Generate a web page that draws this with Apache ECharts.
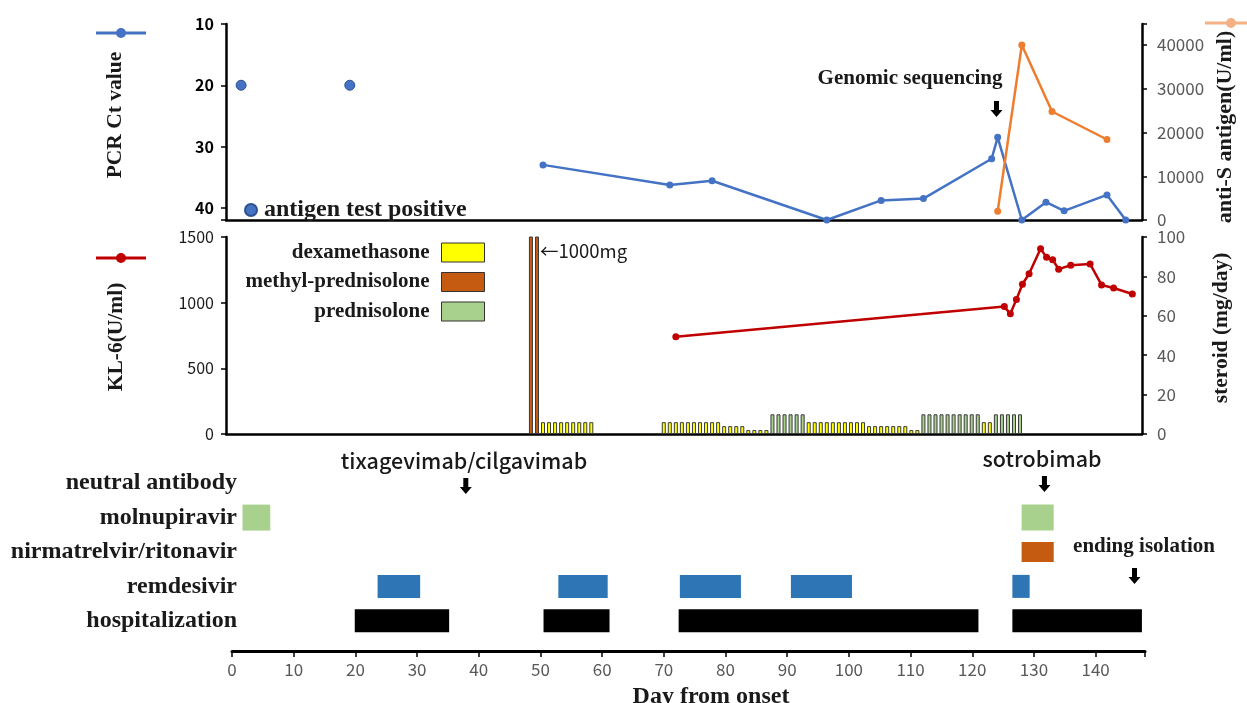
<!DOCTYPE html>
<html><head><meta charset="utf-8">
<script src="https://cdn.jsdelivr.net/npm/echarts@6/dist/echarts.min.js"></script>
<style>html,body{margin:0;padding:0;background:#fff}#c{width:1247px;height:703px}</style>
</head><body><div id="c"></div>
<script>
// ---------- DATA ----------
// top panel: PCR Ct (inverted axis) and anti-S antibody
const ctDays = [50, 71, 78, 97, 106, 113, 124.3, 125.3, 129.3, 133.3, 136.3, 143.4, 146.5];
const ctValues = [33.0, 36.3, 35.6, 42, 38.8, 38.5, 32.0, 28.5, 42, 39.1, 40.5, 37.9, 42];
const antigenDays = [0, 18];
const antigenCt = [20, 20];
const antiSDays = [125.3, 129.3, 134.3, 143.4];
const antiSValues = [2000, 40000, 24800, 18400];
// middle panel: KL-6 and steroid doses
const kl6Days = [72, 126.4, 127.4, 128.4, 129.4, 130.5, 132.4, 133.4, 134.4, 135.4, 137.4, 140.6, 142.5, 144.5, 147.6];
const kl6Values = [740, 970, 915, 1025, 1140, 1220, 1410, 1345, 1327, 1255, 1285, 1295, 1135, 1112, 1066];
const methylDays = [48, 49];
const methylDose = [1000, 1000];
const dexDays = [50,51,52,53,54,55,56,57,58,
  70,71,72,73,74,75,76,77,78,79, 80,81,82,83, 84,85,86,87,
  94,95,96,97,98,99,100,101,102,103, 104,105,106,107,108,109,110, 111,112,
  123,124];
const dexDose = [6,6,6,6,6,6,6,6,6,
  6,6,6,6,6,6,6,6,6,6, 4,4,4,4, 2,2,2,2,
  6,6,6,6,6,6,6,6,6,6, 4,4,4,4,4,4,4, 2,2,
  6,6];
const predDays = [88,89,90,91,92,93, 113,114,115,116,117,118,119,120,121,122, 125,126,127,128,129];
const predDose = [10,10,10,10,10,10, 10,10,10,10,10,10,10,10,10,10, 10,10,10,10,10];
// bottom panel: treatment periods [start day, end day]
const rowLabels = ['hospitalization', 'remdesivir', 'nirmatrelvir/ritonavir', 'molnupiravir', 'neutral antibody'];
const hospitalization = [[19.9, 35.2], [50.5, 61.2], [72.4, 121.0], [126.5, 147.5]];
const remdesivir = [[23.6, 30.5], [52.9, 60.9], [72.6, 82.5], [90.6, 100.5], [126.5, 129.3]];
const nirmatrelvir = [[128.0, 133.2]];
const molnupiravir = [[1.7, 6.2], [128.0, 133.2]];
// annotation arrows (day)
const genomicDay = 125.1;
const tixaDay = 37.9;
const sotroDay = 131.7;
const isolationEndDay = 146.3;

// ---------- CHART ----------
const zip = (a, b) => a.map((v, i) => [v, b[i]]);
const serifB = {fontFamily: 'Liberation Serif', fontWeight: 'bold'};
const sans = 'Noto Sans CJK JP';
const blackLine = {show: true, onZero: false, lineStyle: {color: '#000', width: 2.5}};
const tick = {show: true, length: 5, lineStyle: {color: '#000', width: 1.5}};
const hideOff = step => v => (v % step === 0 ? String(v) : '');
const rowHeights = {0: 23, 1: 23, 2: 20, 3: 26, 4: 24};

function gantt(name, arr, row, color) {
  return {
    type: 'custom', name, xAxisIndex: 2, yAxisIndex: 4,
    data: arr.map(([s, e]) => [row, s, e]),
    encode: {x: [1, 2], y: 0},
    renderItem(params, api) {
      const r = api.value(0);
      const p0 = api.coord([api.value(1), r]);
      const p1 = api.coord([api.value(2), r]);
      const h = rowHeights[r];
      return {type: 'rect', shape: {x: p0[0], y: p0[1] - h / 2, width: p1[0] - p0[0], height: h},
        style: {fill: color}};
    }
  };
}

const chart = echarts.init(document.getElementById('c'), null, {renderer: 'canvas'});
const option = {
  animation: false,
  backgroundColor: '#fff',
  grid: [
    {left: 226, right: 105, top: 24, height: 196},
    {left: 226, right: 105, top: 237, height: 197},
    {left: 232, right: 102, top: 466, height: 172}
  ],
  xAxis: [
    {gridIndex: 0, type: 'value', min: -2.5, max: 149.2, axisLine: blackLine, axisTick: {show: false}, axisLabel: {show: false}, splitLine: {show: false}},
    {gridIndex: 1, type: 'value', min: -2.5, max: 149.2, axisLine: blackLine, axisTick: {show: false}, axisLabel: {show: false}, splitLine: {show: false}},
    {gridIndex: 2, type: 'value', min: 0, max: 148, interval: 10, offset: 13,
      axisLine: {show: true, onZero: false, lineStyle: {color: '#000', width: 3}},
      axisTick: {show: true, length: 6, lineStyle: {color: '#000', width: 1.5}},
      axisLabel: {color: '#595959', fontSize: 17, fontFamily: sans, margin: 10, formatter: hideOff(10)},
      splitLine: {show: false}}
  ],
  yAxis: [
    {gridIndex: 0, type: 'value', inverse: true, min: 10, max: 42, interval: 10, position: 'left',
      axisLine: blackLine, axisTick: tick, splitLine: {show: false},
      axisLabel: {color: '#000', fontSize: 16, fontWeight: 'bold', fontFamily: sans, margin: 12, formatter: hideOff(10)}},
    {gridIndex: 0, type: 'value', min: 0, max: 44800, interval: 10000, position: 'right',
      axisLine: blackLine, axisTick: tick, splitLine: {show: false},
      axisLabel: {color: '#595959', fontSize: 17, fontFamily: sans, margin: 15, formatter: hideOff(10000)}},
    {gridIndex: 1, type: 'value', min: 0, max: 1500, interval: 500, position: 'left',
      axisLine: blackLine, axisTick: tick, splitLine: {show: false},
      axisLabel: {color: '#1a1a1a', fontSize: 16, fontFamily: sans, margin: 12, formatter: v => String(v)}},
    {gridIndex: 1, type: 'value', min: 0, max: 100, interval: 20, position: 'right',
      axisLine: blackLine, axisTick: tick, splitLine: {show: false},
      axisLabel: {color: '#595959', fontSize: 17, fontFamily: sans, margin: 15}},
    {gridIndex: 2, type: 'category', data: rowLabels, axisLine: {show: false}, axisTick: {show: false},
      splitLine: {show: false},
      axisLabel: Object.assign({color: '#1a1a1a', fontSize: 24, margin: -5}, serifB)}
  ],
  legend: [
    {data: ['dexamethasone', 'methyl-prednisolone', 'prednisolone'], orient: 'vertical', align: 'right',
      right: 762, top: 242, padding: 0, itemWidth: 43, itemHeight: 19, itemGap: 8.5, selectedMode: false,
      icon: 'rect', itemStyle: {borderColor: '#333', borderWidth: 1},
      textStyle: Object.assign({fontSize: 21, color: '#1a1a1a', lineHeight: 19, padding: [0, 7, 0, 0]}, serifB)},
    {data: ['antigen test positive'], left: 244, top: 198, padding: 0, icon: 'circle', itemWidth: 16, itemHeight: 12,
      selectedMode: false,
      textStyle: Object.assign({fontSize: 24, color: '#1a1a1a', lineHeight: 12}, serifB)}
  ],
  series: [
    {type: 'scatter', name: 'antigen test positive', xAxisIndex: 0, yAxisIndex: 0, data: zip(antigenDays, antigenCt),
      symbolSize: 10, itemStyle: {color: '#4472C4', opacity: 1, borderColor: '#2F528F', borderWidth: 1}},
    {type: 'line', name: 'PCR Ct value', xAxisIndex: 0, yAxisIndex: 0, data: zip(ctDays, ctValues),
      symbol: 'circle', symbolSize: 7, lineStyle: {color: '#4472C4', width: 2.5}, itemStyle: {color: '#4472C4'}},
    {type: 'line', name: 'anti-S antigen', xAxisIndex: 0, yAxisIndex: 1, data: zip(antiSDays, antiSValues),
      symbol: 'circle', symbolSize: 7, lineStyle: {color: '#ED7D31', width: 2.5}, itemStyle: {color: '#ED7D31'}},
    {type: 'bar', name: 'dexamethasone', xAxisIndex: 1, yAxisIndex: 3, stack: 'steroid', barWidth: 4,
      data: zip(dexDays, dexDose), itemStyle: {color: '#FFFF00', borderColor: '#3a3a3a', borderWidth: 1}},
    {type: 'bar', name: 'methyl-prednisolone', xAxisIndex: 1, yAxisIndex: 3, stack: 'steroid', barWidth: 4,
      data: zip(methylDays, methylDose), itemStyle: {color: '#C55A11', borderColor: '#3a3a3a', borderWidth: 1}},
    {type: 'bar', name: 'prednisolone', xAxisIndex: 1, yAxisIndex: 3, stack: 'steroid', barWidth: 4,
      data: zip(predDays, predDose), itemStyle: {color: '#A9D18E', borderColor: '#3a3a3a', borderWidth: 1}},
    {type: 'line', name: 'KL-6', xAxisIndex: 1, yAxisIndex: 2, data: zip(kl6Days, kl6Values),
      symbol: 'circle', symbolSize: 7, lineStyle: {color: '#C00000', width: 2.5}, itemStyle: {color: '#C00000'}},
    gantt('hospitalization', hospitalization, 0, '#000000'),
    gantt('remdesivir', remdesivir, 1, '#2E75B6'),
    gantt('nirmatrelvir/ritonavir', nirmatrelvir, 2, '#C55A11'),
    gantt('molnupiravir', molnupiravir, 3, '#A9D18E')
  ]
};
chart.setOption(option);

// ---------- ANNOTATIONS ----------
function arrow(x, yTop) {
  return {type: 'polygon', shape: {points: [
    [x - 2.5, yTop], [x + 2.5, yTop], [x + 2.5, yTop + 9], [x + 6, yTop + 9], [x, yTop + 16], [x - 6, yTop + 9], [x - 2.5, yTop + 9]
  ]}, style: {fill: '#000'}};
}
function vtitle(text, x, y, size) {
  return {type: 'text', x, y, rotation: Math.PI / 2,
    style: Object.assign({text, fontSize: size, fill: '#1a1a1a', align: 'center', verticalAlign: 'middle'}, serifB)};
}
function legendIcon(x1, x2, y, cx, color) {
  return [
    {type: 'line', shape: {x1, y1: y, x2, y2: y}, style: {stroke: color, lineWidth: 3}},
    {type: 'circle', shape: {cx, cy: y, r: 5}, style: {fill: color}}
  ];
}
const gx = d => chart.convertToPixel({xAxisIndex: 0}, d);
const bx = d => chart.convertToPixel({xAxisIndex: 2}, d);

chart.setOption({graphic: [
  vtitle('PCR Ct value', 115, 115, 21.5),
  vtitle('anti-S antigen(U/ml)', 1225, 127, 22),
  vtitle('KL-6(U/ml)', 116, 337, 21.5),
  vtitle('steroid (mg/day)', 1221, 328, 21.5),
  ...legendIcon(96, 146, 33, 121, '#4472C4'),
  ...legendIcon(96, 146, 258, 121, '#C00000'),
  ...legendIcon(1205, 1247, 23, 1231, '#F4B183'),
  {type: 'text', x: 910, y: 79, style: Object.assign({text: 'Genomic sequencing', fontSize: 21, fill: '#1a1a1a', align: 'center', verticalAlign: 'middle'}, serifB)},
  arrow(gx(genomicDay), 101),
  {type: 'text', x: 540, y: 251, style: {text: '\u21901000mg', fontFamily: sans, fontSize: 18.5, fill: '#1a1a1a', align: 'left', verticalAlign: 'middle'}},
  {type: 'text', x: 464, y: 461, style: {text: 'tixagevimab/cilgavimab', fontFamily: sans, fontWeight: 500, fontSize: 21.5, fill: '#1a1a1a', align: 'center', verticalAlign: 'middle'}},
  arrow(bx(tixaDay), 478),
  {type: 'text', x: 1042, y: 459, style: {text: 'sotrobimab', fontFamily: sans, fontWeight: 500, fontSize: 21.5, fill: '#1a1a1a', align: 'center', verticalAlign: 'middle'}},
  arrow(bx(sotroDay), 476),
  {type: 'text', x: 1144, y: 547, style: Object.assign({text: 'ending isolation', fontSize: 21, fill: '#1a1a1a', align: 'center', verticalAlign: 'middle'}, serifB)},
  arrow(bx(isolationEndDay), 568),
  {type: 'text', x: 711, y: 697, style: Object.assign({text: 'Day from onset', fontSize: 24, fill: '#1a1a1a', align: 'center', verticalAlign: 'middle'}, serifB)}
]});
</script>
</body></html>
